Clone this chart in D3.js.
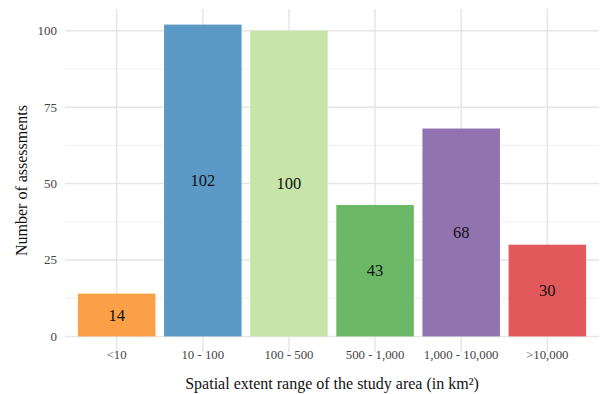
<!DOCTYPE html>
<html>
<head>
<meta charset="utf-8">
<script src="https://cdn.jsdelivr.net/npm/d3@7"></script>
<style>
  html, body { margin: 0; padding: 0; background: #fff; }
  svg { display: block; font-family: "Liberation Serif", "Times New Roman", serif; }
</style>
</head>
<body>
<svg id="chart" width="600" height="394"></svg>
<script>
// Spatial extent classes and number of assessments in each
const categories = ["<10", "10 - 100", "100 - 500", "500 - 1,000", "1,000 - 10,000", ">10,000"];
const counts = [14, 102, 100, 43, 68, 30];
const barColors = ["#FBA047", "#5B9AC6", "#C7E5A8", "#6BB866", "#9173B0", "#E3585B"];
const yTicks = [0, 25, 50, 75, 100];
const yMinorTicks = [12.5, 37.5, 62.5, 87.5];

const W = 600, H = 394;
const panel = { left: 65, right: 599, top: 9, bottom: 352 };

const svg = d3.select("#chart");

// Discrete x with 0.6 band expansion on each side
const n = categories.length;
const xLin = d3.scaleLinear()
  .domain([1 - 0.6, n + 0.6])
  .range([panel.left, panel.right]);
const xPos = c => xLin(categories.indexOf(c) + 1);
const step = xLin(2) - xLin(1);
const barW = step * 0.9;

const yMax = d3.max(counts);
const y = d3.scaleLinear()
  .domain([-0.05 * yMax, yMax * 1.05])
  .range([panel.bottom, panel.top]);

// Gridlines
const grid = svg.append("g");
grid.selectAll("line.minor").data(yMinorTicks).join("line")
  .attr("x1", panel.left).attr("x2", panel.right)
  .attr("y1", d => y(d)).attr("y2", d => y(d))
  .attr("stroke", "#eeeeee").attr("stroke-width", 0.9);
grid.selectAll("line.major").data(yTicks).join("line")
  .attr("x1", panel.left).attr("x2", panel.right)
  .attr("y1", d => y(d)).attr("y2", d => y(d))
  .attr("stroke", "#e6e6e6").attr("stroke-width", 1.5);
grid.selectAll("line.vx").data(categories).join("line")
  .attr("x1", d => xPos(d)).attr("x2", d => xPos(d))
  .attr("y1", panel.top).attr("y2", panel.bottom)
  .attr("stroke", "#e6e6e6").attr("stroke-width", 1.5);

// Bars
const data = categories.map((c, i) => ({ cat: c, value: counts[i], color: barColors[i] }));
svg.append("g").selectAll("rect").data(data).join("rect")
  .attr("x", d => xPos(d.cat) - barW / 2)
  .attr("width", barW)
  .attr("y", d => y(d.value))
  .attr("height", d => y(0) - y(d.value))
  .attr("fill", d => d.color);

// Value labels at mid-height of each bar
svg.append("g").selectAll("text").data(data).join("text")
  .attr("x", d => xPos(d.cat))
  .attr("y", d => y(d.value / 2))
  .attr("text-anchor", "middle")
  .attr("dominant-baseline", "central")
  .attr("font-size", 16.5)
  .attr("fill", "#111")
  .text(d => d.value);

// Y tick labels
svg.append("g").selectAll("text").data(yTicks).join("text")
  .attr("x", 57)
  .attr("y", d => y(d))
  .attr("text-anchor", "end")
  .attr("dominant-baseline", "central")
  .attr("font-size", 13)
  .attr("fill", "#444")
  .text(d => d);

// X tick labels
svg.append("g").selectAll("text").data(categories).join("text")
  .attr("x", d => xPos(d))
  .attr("y", 355)
  .attr("text-anchor", "middle")
  .attr("dominant-baseline", "central")
  .attr("font-size", 12.8)
  .attr("fill", "#444")
  .text(d => d);

// Axis titles
svg.append("text")
  .attr("x", (panel.left + panel.right) / 2)
  .attr("y", 383)
  .attr("text-anchor", "middle")
  .attr("dominant-baseline", "central")
  .attr("font-size", 16)
  .attr("fill", "#111")
  .text("Spatial extent range of the study area (in km²)");

svg.append("text")
  .attr("transform", `translate(21,${(panel.top + panel.bottom) / 2}) rotate(-90)`)
  .attr("text-anchor", "middle")
  .attr("dominant-baseline", "central")
  .attr("font-size", 16)
  .attr("fill", "#111")
  .text("Number of assessments");
</script>
</body>
</html>
